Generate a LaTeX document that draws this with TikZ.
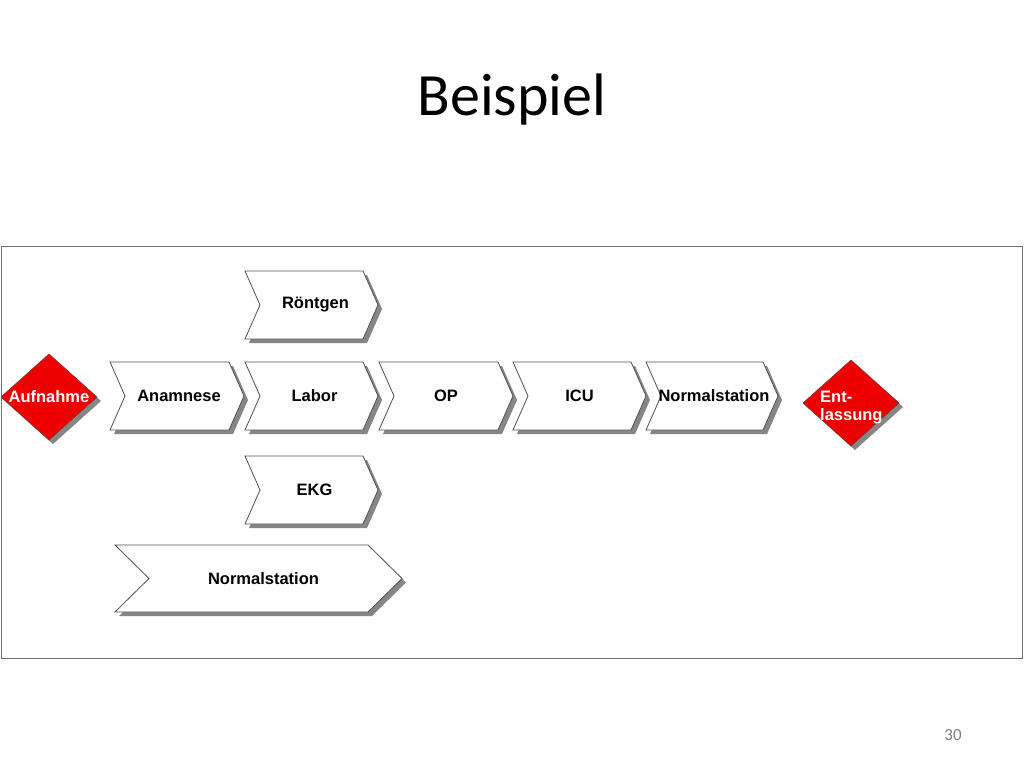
\documentclass[tikz,border=0pt]{standalone}
\usepackage{fontspec}
\setmainfont{Carlito}
\newfontfamily\labfont{Liberation Sans}
\definecolor{shadowc}{HTML}{868686}
\definecolor{edgec}{HTML}{505050}
\definecolor{redc}{HTML}{EE0000}
\tikzset{
  shad/.style={fill=shadowc, draw=none},
  chevbody/.style={fill=white, draw=edgec, line width=0.8pt, line join=miter},
  diabody/.style={fill=redc, draw=edgec!70!redc, line width=0.6pt},
  lab/.style={font=\labfont\bfseries\fontsize{16.5}{19}\selectfont, text=black, inner sep=0pt},
  wlab/.style={font=\labfont\bfseries\fontsize{16.5}{18}\selectfont, text=white, inner sep=0pt},
}
\newcommand\chevshape[6]{%
  ({#1},{#2}) -- ({#1+#3-#5},{#2}) -- ({#1+#3},{#2+#4/2}) -- ({#1+#3-#5},{#2+#4}) -- ({#1},{#2+#4}) -- ({#1+#5},{#2+#4/2}) -- cycle}
% #1 name, #2 x left, #3 y top, #4 width to tip, #5 height, #6 depth, #7 text, #8 text x offset
\newcommand\chevron[8]{%
  \fill[shad] \chevshape{#2+4}{#3+4}{#4}{#5}{#6}{};
  \draw[chevbody] \chevshape{#2}{#3}{#4}{#5}{#6}{};
  \node[lab] (#1) at ({#2+#4/2+#8},{#3+#5/2}) {#7};
}
\newcommand\diashape[4]{%
  ({#1},{#2-#4}) -- ({#1+#3},{#2}) -- ({#1},{#2+#4}) -- ({#1-#3},{#2}) -- cycle}
\begin{document}
\begin{tikzpicture}[x=1pt,y=-1pt]
\useasboundingbox (0,0) rectangle (1024,768);
\fill[white] (0,0) rectangle (1024,768);
% title
\node[font=\fontsize{60}{70}\selectfont, anchor=base, inner sep=0pt] (title) at (512,115) {Beispiel};
% frame
\draw[edgec!80, line width=1pt] (1,246.5) rectangle (1022.5,658);
% main row
\chevron{anam}{110}{362}{134}{68}{15}{Anamnese}{2}
\chevron{labor}{245}{362}{133}{68}{15}{Labor}{3}
\chevron{op}{379}{362}{134}{68}{15}{OP}{0}
\chevron{icu}{513}{362}{133}{68}{15}{ICU}{0}
\chevron{norm}{646}{362}{132}{68}{15}{Normalstation}{2}
% branches
\chevron{roent}{245}{271}{133}{68}{15}{Röntgen}{4}
\chevron{ekg}{245}{456}{133}{68}{15}{EKG}{3}
\chevron{normbig}{115}{545}{287}{67}{34}{Normalstation}{5}
% diamonds
\fill[shad] \diashape{53}{401}{48}{43};
\draw[diabody] \diashape{49}{397}{48}{43};
\node[wlab] (aufn) at (49,397) {Aufnahme};
\fill[shad] \diashape{855}{407}{48}{43};
\draw[diabody] \diashape{851}{403}{48}{43};
\node[wlab, anchor=base west] (ent1) at (820,402) {Ent-};
\node[wlab, anchor=base west] (ent2) at (820,420) {lassung};
% page number
\node[font=\fontsize{17}{20}\selectfont, text=gray, anchor=base, inner sep=0pt] (pnum) at (953,740) {30};
\end{tikzpicture}
\end{document}
